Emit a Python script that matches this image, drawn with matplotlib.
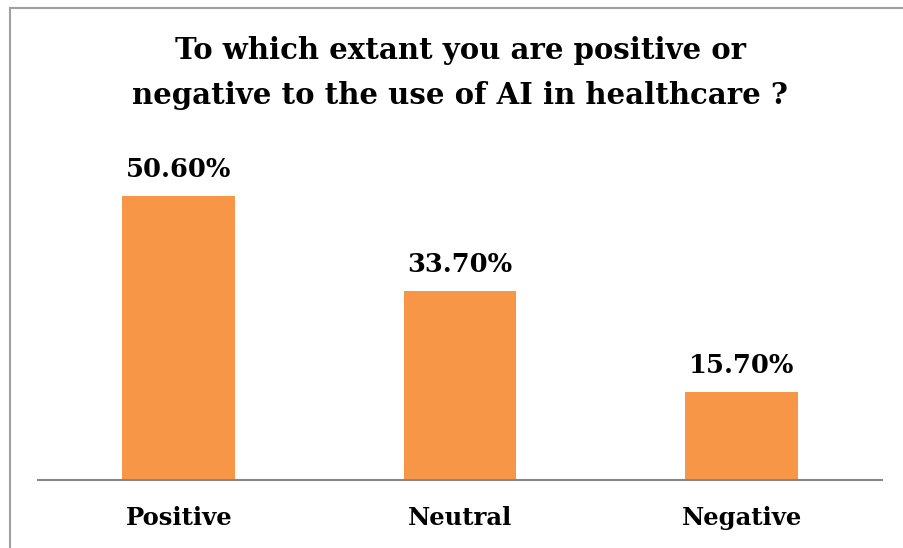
import matplotlib
matplotlib.use("Agg")
import matplotlib.pyplot as plt
from matplotlib.lines import Line2D

categories = ["Positive", "Neutral", "Negative"]
values = [50.6, 33.7, 15.7]
labels = ["50.60%", "33.70%", "15.70%"]
title_lines = ["To which extant you are positive or",
               "negative to the use of AI in healthcare ?"]

plt.rcParams['font.family'] = ['DejaVu Serif']

fig = plt.figure(figsize=(9.04, 5.48), dpi=100)
ax = fig.add_axes([0.042, 0.124, 0.934, 0.614])
ax.bar(range(len(values)), values, width=0.40, color="#F79646")
ax.set_xlim(-0.5, 2.5)
ax.set_ylim(0, 60)
for i, (v, t) in enumerate(zip(values, labels)):
    ax.annotate(t, (i, v), xytext=(0, 10), textcoords="offset points",
                ha="center", va="bottom", fontsize=18.5, fontweight="bold")
ax.set_xticks(range(len(values)))
ax.set_xticklabels(categories, fontsize=17.5, fontweight="bold")
ax.tick_params(axis="x", length=0, pad=19)
ax.set_yticks([])
for s in ["top", "right", "left"]:
    ax.spines[s].set_visible(False)
ax.spines["bottom"].set_color("#868686")
ax.spines["bottom"].set_linewidth(1.5)

fig.text(0.509, 1 - 50/548, title_lines[0], ha="center", va="center", fontsize=21,
         fontweight="bold")
fig.text(0.509, 1 - 95/548, title_lines[1], ha="center", va="center", fontsize=21,
         fontweight="bold")

fig.add_artist(Line2D([10/904, 10/904], [0, 1 - 8/548], transform=fig.transFigure,
                      color="#A0A0A0", lw=1.5))
fig.add_artist(Line2D([10/904, 1], [1 - 8/548, 1 - 8/548], transform=fig.transFigure,
                      color="#A0A0A0", lw=1.5))

fig.savefig("out.png", dpi=100)
